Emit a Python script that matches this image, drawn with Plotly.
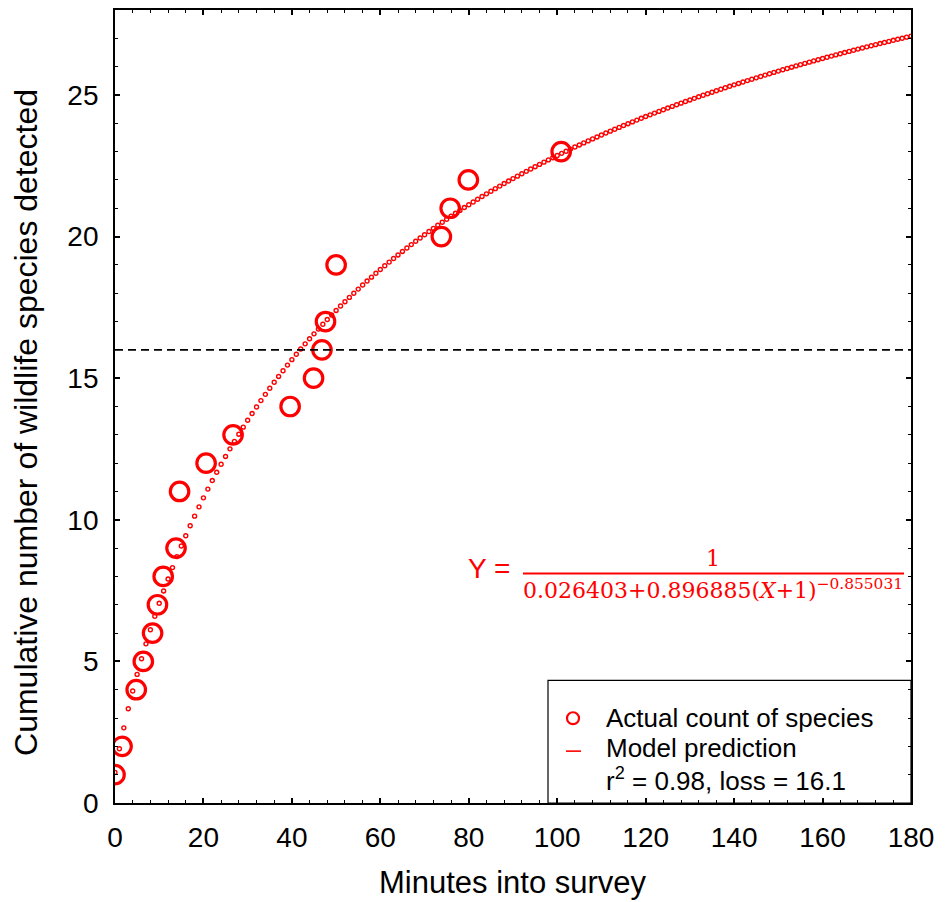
import plotly.graph_objects as go

# ---- data ----
minutes = [0, 1.6, 4.8, 6.4, 8.5, 9.6, 10.9, 13.8, 14.6, 20.6, 26.7, 39.6,
           44.9, 46.8, 47.6, 50.0, 73.8, 75.8, 79.9, 100.9]
species = [1, 2, 4, 5, 6, 7, 8, 9, 11, 12, 13, 14, 15, 16, 17, 19, 20, 21, 22, 23]

# model printed on the chart: Y = 1 / (a + b (X+1)^c)
coef_a = 0.026403
coef_b = 0.896885
coef_c = -0.855031
model_minutes = list(range(0, 181))
model_species = [1.0 / (coef_a + coef_b * (m + 1) ** coef_c) for m in model_minutes]

threshold = 16
x_ticks = [0, 20, 40, 60, 80, 100, 120, 140, 160, 180]
y_ticks = [0, 5, 10, 15, 20, 25]
legend_labels = ["Actual count of species", "Model prediction",
                 "r<sup>2</sup> = 0.98, loss = 16.1"]

RED = "#FF0000"
FONT = "Liberation Sans, Arial, sans-serif"

fig = go.Figure()

# model prediction dots
fig.add_trace(go.Scatter(
    x=model_minutes, y=model_species, mode="markers", name=legend_labels[1],
    marker=dict(symbol="circle-open", size=4, color=RED, line=dict(width=1.4, color=RED)),
    showlegend=False, hoverinfo="skip"))

# actual counts
fig.add_trace(go.Scatter(
    x=minutes, y=species, mode="markers", name=legend_labels[0],
    marker=dict(symbol="circle-open", size=18.5, color=RED, line=dict(width=3.2, color=RED)),
    showlegend=False))

OFF = 8               # page body offset
L, R, T, B = 107, 37, 0, 99
W, H = 940, 894
pw, ph = W - L - R, H - T - B


def px(xp):
    return (xp - OFF - L) / pw


def py(yp):
    return (H - B - (yp - OFF)) / ph


# threshold dashed line
fig.add_shape(type="line", xref="paper", yref="y", x0=0, x1=1, y0=threshold, y1=threshold,
              line=dict(color="black", width=1.8, dash="8px,5px"))

# legend box
fig.add_shape(type="rect", xref="paper", yref="paper", x0=px(548), x1=1, y0=0, y1=py(680),
              line=dict(color="black", width=1.2), fillcolor="white", layer="below")
# legend symbols
fig.add_shape(type="circle", xref="paper", yref="paper",
              x0=px(567), x1=px(579), y0=py(724), y1=py(712),
              line=dict(color=RED, width=2.2))
fig.add_shape(type="line", xref="paper", yref="paper",
              x0=px(566), x1=px(581), y0=py(751), y1=py(751),
              line=dict(color=RED, width=1.6))
# legend labels
for lab, yy in zip(legend_labels, [718, 748, 779]):
    fig.add_annotation(xref="paper", yref="paper", x=px(604), y=py(yy), text=lab,
                       showarrow=False, font=dict(family=FONT, size=26, color="black"),
                       xanchor="left", yanchor="middle")

# equation
eq_font = "DejaVu Serif, Liberation Serif, serif"
fig.add_annotation(xref="paper", yref="paper", x=px(489), y=py(568), text="Y =",
                   showarrow=False, font=dict(family=FONT, size=28, color=RED),
                   xanchor="center", yanchor="middle")
fig.add_annotation(xref="paper", yref="paper", x=px(713), y=py(558), text="1",
                   showarrow=False, font=dict(family=eq_font, size=22, color=RED),
                   xanchor="center", yanchor="middle")
fig.add_annotation(xref="paper", yref="paper", x=px(713), y=py(588),
                   text="0.026403+0.896885(<i>X</i>+1)<sup>−0.855031</sup>",
                   showarrow=False, font=dict(family=eq_font, size=22, color=RED),
                   xanchor="center", yanchor="middle")
fig.add_shape(type="line", xref="paper", yref="paper", x0=px(523), x1=px(904),
              y0=py(573), y1=py(573), line=dict(color=RED, width=2))

# axis titles
fig.add_annotation(xref="paper", yref="paper", x=px(513), y=py(883),
                   text="Minutes into survey", showarrow=False,
                   font=dict(family=FONT, size=31, color="black"),
                   xanchor="center", yanchor="middle")
fig.add_annotation(xref="paper", yref="paper", x=px(26), y=py(422),
                   text="Cumulative number of wildlife species detected", showarrow=False,
                   textangle=-90, font=dict(family=FONT, size=32, color="black"),
                   xanchor="center", yanchor="middle")

axis_common = dict(
    showgrid=False, zeroline=False, showline=True, linecolor="black", linewidth=1.8,
    mirror="ticks", ticks="inside", ticklen=5, tickwidth=1.6, tickcolor="black",
    tickfont=dict(family=FONT, size=28, color="black"),
)

fig.update_xaxes(range=[0, 180], tickvals=x_ticks, ticktext=[str(v) for v in x_ticks],
                 minor=dict(dtick=4, ticks="inside", ticklen=3, tickwidth=1.3, tickcolor="black"),
                 ticklabelstandoff=8, **axis_common)
fig.update_yaxes(range=[0, 28], tickvals=y_ticks, ticktext=[str(v) for v in y_ticks],
                 minor=dict(dtick=1, ticks="inside", ticklen=3, tickwidth=1.3, tickcolor="black"),
                 ticklabelstandoff=9, **axis_common)

fig.update_layout(
    width=W, height=H,
    margin=dict(l=L, r=R, t=T, b=B),
    plot_bgcolor="white", paper_bgcolor="white",
    font=dict(family=FONT, color="black"),
    showlegend=False,
)

fig.write_html("out.html")
